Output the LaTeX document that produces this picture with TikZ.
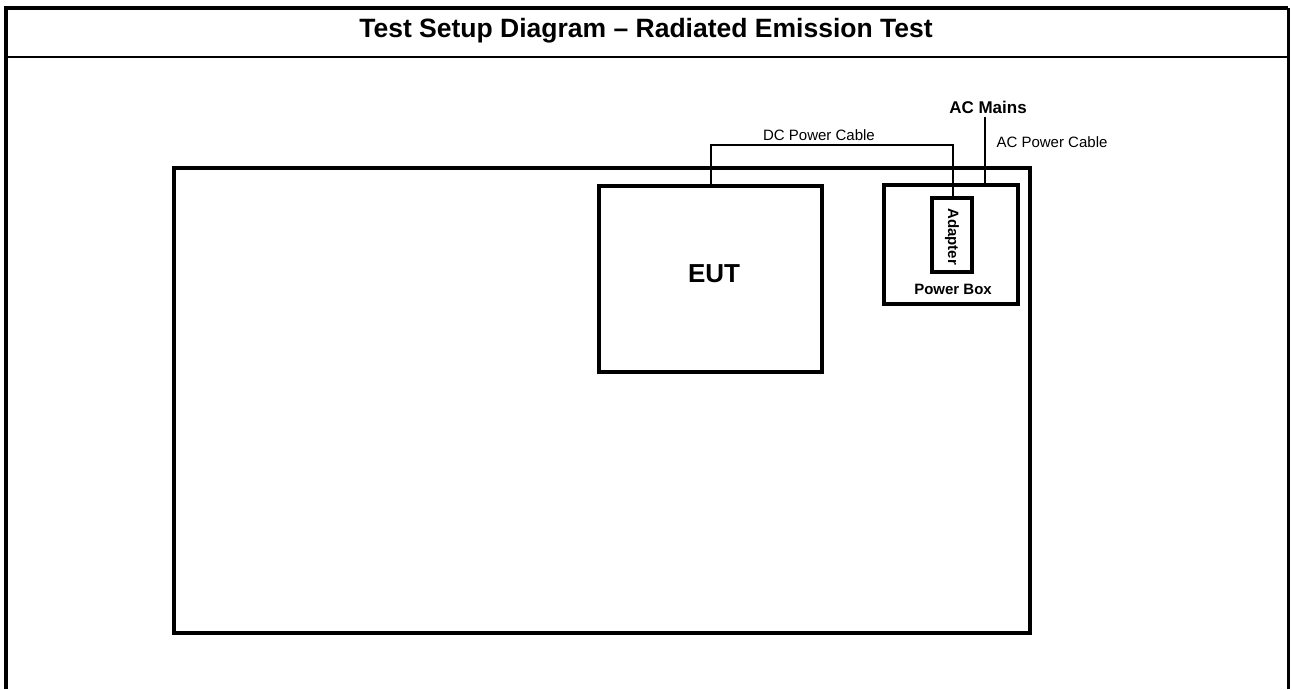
\documentclass[tikz,border=0pt]{standalone}
\usepackage{fontspec}
\setmainfont{Liberation Sans}
\begin{document}
\begin{tikzpicture}[x=1pt,y=-1pt,
  box/.style={draw,line width=4.5pt,inner sep=0pt},
  cable/.style={draw,line width=2pt},
  lbl/.style={inner sep=0pt,font=\fontsize{15}{18}\selectfont},
  blbl/.style={inner sep=0pt,font=\bfseries\fontsize{15}{18}\selectfont}]
\useasboundingbox[fill=white] (0,0) rectangle (1292,689);
% outer frame
\coordinate (ftl) at (6,8);
\coordinate (ftr) at (1288,8);
\coordinate (fbl) at (6,689);
\coordinate (fbr) at (1288,689);
\draw[line width=4pt] (fbl) -- (ftl) -- (ftr);
\draw[line width=3pt] (ftr) -- (fbr);
\coordinate (sl) at (6,57);
\coordinate (sr) at (1288,57);
\draw[line width=2.2pt] (sl) -- (sr);
\node[inner sep=0pt,font=\bfseries\fontsize{26.5}{30}\selectfont] (title) at (646,31) {Test Setup Diagram – Radiated Emission Test};
% table
\node[box,minimum width=856pt,minimum height=465pt] (table) at (602,400.5) {};
% EUT
\node[box,minimum width=223pt,minimum height=186pt] (eut) at (710.5,279) {};
\node[inner sep=0pt,font=\bfseries\fontsize{26}{30}\selectfont] (euttext) at (714,274) {EUT};
% Power box
\node[box,minimum width=134pt,minimum height=119pt] (pbox) at (951,244.5) {};
\node[blbl] (pboxtext) at (953,289) {Power Box};
% Adapter
\node[box,minimum width=40pt,minimum height=74pt] (adapter) at (952,235) {};
\node[blbl,rotate=-90] (adaptertext) at (952,236.5) {Adapter};
% labels
\node[inner sep=0pt,font=\bfseries\fontsize{17}{20}\selectfont] (acmains) at (988,107) {AC Mains};
\node[lbl] (dclbl) at (819,135.5) {DC Power Cable};
\node[lbl] (aclbl) at (1052,142.5) {AC Power Cable};
% cables
\coordinate (dc1) at (711,145);
\coordinate (dc2) at (953,145);
\draw[cable] (eut.north -| dc1) -- (dc1) -- (dc2) -- (adapter.north -| dc2);
\coordinate (ac1) at (985,117);
\draw[cable] (ac1) -- (pbox.north -| ac1);
\end{tikzpicture}
\end{document}
